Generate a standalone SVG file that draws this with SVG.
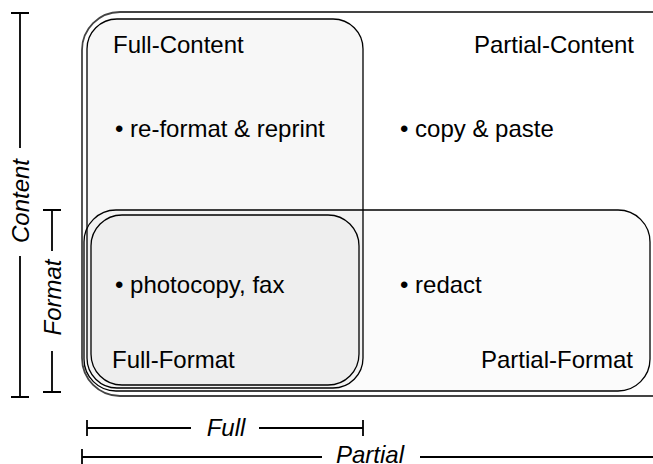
<svg xmlns="http://www.w3.org/2000/svg" width="653" height="464" viewBox="0 0 653 464">
  <style>
    .region { stroke: #000; stroke-width: 1.3; fill: #000; }
    .outer { fill: #fff; stroke: #444; stroke-width: 1.8; }
    .label { font-family: "Liberation Sans", Arial, sans-serif; font-size: 24px; fill: #000; }
    .axis-label { font-family: "Liberation Sans", Arial, sans-serif; font-size: 24px; font-style: italic; fill: #000; }
    .axis { stroke: #000; stroke-width: 1.8; fill: none; }
  </style>

  <rect width="653" height="464" fill="#fff"/>

  <!-- Partial-Content: outermost region, runs past the right edge -->
  <g id="partial-content">
    <rect class="outer" x="82" y="12" width="610" height="384" rx="38" ry="38"/>
    <text class="label" x="634" y="53" text-anchor="end">Partial-Content</text>
    <text class="label" x="400" y="137">• copy &amp; paste</text>
  </g>

  <!-- Full-Content -->
  <g id="full-content">
    <rect class="region" x="87" y="19" width="276" height="369" rx="30" ry="30" fill-opacity="0.03"/>
    <text class="label" x="113" y="53">Full-Content</text>
    <text class="label" x="115" y="137">• re-format &amp; reprint</text>
  </g>

  <!-- Partial-Format -->
  <g id="partial-format">
    <rect class="region" x="84" y="210" width="566" height="181" rx="32" ry="32" fill-opacity="0.015"/>
    <text class="label" x="633" y="368" text-anchor="end">Partial-Format</text>
    <text class="label" x="400" y="293">• redact</text>
  </g>

  <!-- Full-Format -->
  <g id="full-format">
    <rect class="region" x="91" y="215" width="268" height="170" rx="31" ry="31" fill-opacity="0.02"/>
    <text class="label" x="112" y="368">Full-Format</text>
    <text class="label" x="115" y="293">• photocopy, fax</text>
  </g>

  <!-- extent brackets -->
  <g id="connectors">
    <!-- Content -->
    <path class="axis" d="M11 13 H29 M20 13 V148 M20 256 V397 M11 397 H29"/>
    <!-- Format -->
    <path class="axis" d="M43 210 H61 M52 210 V251 M52 351 V392 M43 392 H61"/>
    <!-- Full -->
    <path class="axis" d="M87 420 V436 M87 428 H191 M259 428 H363 M363 420 V436"/>
    <!-- Partial -->
    <path class="axis" d="M82 449 V465 M82 457 H322 M420 457 H653"/>
  </g>

  <text class="axis-label" transform="translate(28.5,201) rotate(-90)" text-anchor="middle">Content</text>
  <text class="axis-label" transform="translate(60.5,297.5) rotate(-90)" text-anchor="middle">Format</text>
  <text class="axis-label" x="226" y="436" text-anchor="middle">Full</text>
  <text class="axis-label" x="370" y="463" text-anchor="middle">Partial</text>
</svg>
